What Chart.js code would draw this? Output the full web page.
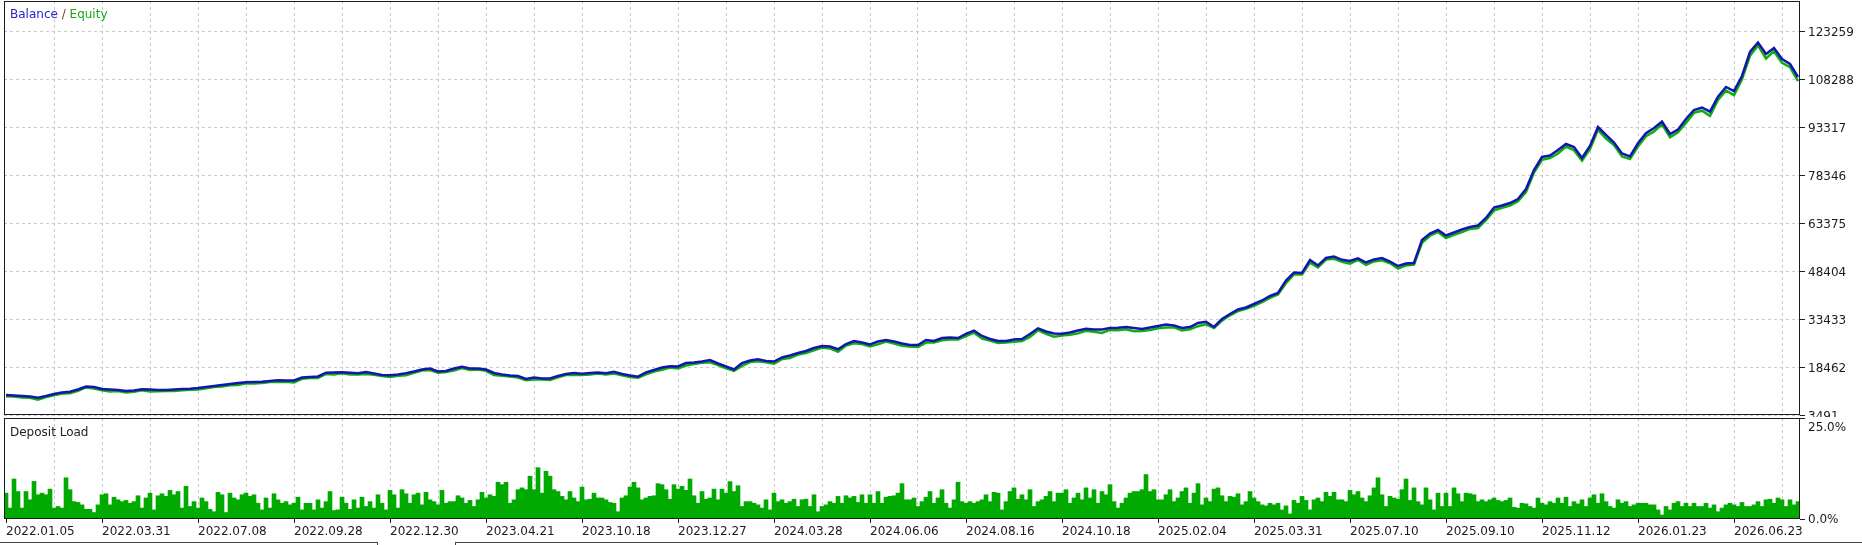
<!DOCTYPE html>
<html>
<head>
<meta charset="utf-8">
<script src="https://cdn.jsdelivr.net/npm/chart.js@4.4.1/dist/chart.umd.min.js"></script>
<style>
  body { margin: 0; background: #fff; }
  #page { position: relative; width: 1862px; height: 545px; overflow: hidden; background: #fff; }
  canvas { position: absolute; left: 0; }
  .caption { position: absolute; font: 12px "DejaVu Sans", sans-serif; line-height: 16px; white-space: nowrap; }
  .tab { position: absolute; top: 542px; height: 4px; border-top: 1px solid #444; }
</style>
</head>
<body>
<div id="page">
  <canvas id="balanceChart" width="1862" height="417" style="top:0"></canvas>
  <canvas id="loadChart" width="1862" height="128" style="top:417px"></canvas>
  <div class="caption" style="left:10px;top:6px"><span style="color:#2424c8">Balance</span> <span style="color:#7a3a10">/</span> <span style="color:#1aa81a">Equity</span></div>
  <div class="caption" style="left:10px;top:424px;color:#222">Deposit Load</div>
  <div class="tab" style="left:0;width:377px;border-right:1px solid #444"></div>
  <div class="tab" style="left:455px;width:1407px;border-left:1px solid #444"></div>
</div>
<script>
// x axis: one slot = one deposit load bar, a date label every 24 slots
const dateLabels = ['2022.01.05', '2022.03.31', '2022.07.08', '2022.09.28', '2022.12.30', '2023.04.21',
    '2023.10.18', '2023.12.27', '2024.03.28', '2024.06.06', '2024.08.16', '2024.10.18', '2025.02.04',
    '2025.03.31', '2025.07.10', '2025.09.10', '2025.11.12', '2026.01.23', '2026.06.23'];
const slotsPerLabel = 24;
const slotsPerPoint = 2;   // balance / equity sampled every 2 slots

const balanceTicks = [3491, 18462, 33433, 48404, 63375, 78346, 93317, 108288, 123259];
const balanceMax = 132616;
const loadTicks = [0, 25];
const loadTickLabels = ['0.0%', '25.0%'];

const balance = [
    9729, 9573, 9417, 9261, 8887, 9417, 10041, 10509, 10758, 11444, 12380, 12224,
    11600, 11444, 11289, 10977, 11133, 11507, 11444, 11289, 11289, 11444, 11600, 11663,
    11912, 12224, 12536, 12848, 13160, 13472, 13690, 13784, 13877, 14096, 14314, 14252,
    14252, 15187, 15343, 15499, 16684, 16747, 16809, 16653, 16497, 16903, 16435, 15967,
    15873, 16123, 16497, 17059, 17682, 17994, 17059, 17215, 17994, 18556, 17994, 17994,
    17682, 16591, 16123, 15811, 15655, 14719, 15187, 14875, 14875, 15655, 16279, 16591,
    16341, 16591, 16747, 16497, 16996, 16279, 15811, 15437, 16747, 17527, 18306, 18712,
    18618, 19710, 19866, 20178, 20646, 19554, 18618, 17682, 19710, 20490, 20864, 20334,
    20178, 21425, 22049, 22829, 23453, 24388, 25012, 24856, 23983, 25636, 26571, 26103,
    25479, 26415, 26883, 26415, 25791, 25324, 25324, 26883, 26571, 27507, 27663, 27507,
    28817, 29784, 28131, 27195, 26571, 26571, 27039, 27195, 28755, 30533, 29535, 28911,
    28849, 29223, 29847, 30377, 30158, 30158, 30626, 30720, 30938, 30626, 30314, 30782,
    31250, 31718, 31406, 30626, 30938, 32186, 32560, 30938, 33433, 34993, 36396, 37020,
    38112, 39203, 40607, 41543, 45442, 47937, 47781, 51836, 50120, 52460, 52927, 51898,
    51524, 52366, 51056, 51992, 52460, 51304, 49964, 50743, 50900, 58074, 60101, 61193,
    59477, 60413, 61349, 62128, 62596, 64935, 68210, 68834, 69614, 70862, 73981, 79907,
    83961, 84429, 86145, 88016, 87080, 83649, 87392, 93317, 90822, 88483, 85052, 84116,
    88235, 91354, 93007, 94972, 91135, 92539, 95814, 98621, 99401, 98091, 102769, 105794,
    104547, 109225, 116711, 119674, 116087, 117959, 114528, 112968, 108914
];

const equity = [
    9329, 9273, 8917, 8861, 8287, 9117, 9641, 10209, 10258, 11044, 12080, 11724,
    11200, 10844, 10989, 10477, 10733, 11207, 10844, 10889, 10989, 10944, 11200, 11363,
    11412, 11824, 12236, 12348, 12760, 12872, 13390, 13284, 13477, 13796, 13814, 13852,
    13652, 14787, 15043, 14999, 16284, 16147, 16509, 16153, 16097, 16303, 16035, 15667,
    15373, 15723, 15897, 16659, 17382, 17494, 16659, 16915, 17394, 18156, 17494, 17694,
    17282, 15991, 15723, 15511, 15155, 14319, 14587, 14575, 14375, 15255, 15979, 15991,
    15941, 16091, 16447, 16097, 16396, 15879, 15311, 15137, 16147, 17027, 17606, 18312,
    18018, 18910, 19366, 19778, 19946, 19054, 18018, 17282, 18810, 19990, 20264, 19934,
    19478, 20925, 21249, 22329, 22853, 23688, 24512, 24256, 23183, 25136, 25871, 25603,
    24879, 25515, 26383, 25815, 25091, 24824, 24724, 26083, 26071, 26807, 27063, 27007,
    28117, 29184, 27331, 26695, 25971, 26071, 26339, 26595, 27855, 29933, 28835, 27911,
    28249, 28523, 28947, 29777, 29458, 29058, 30026, 29920, 30238, 29626, 29714, 29982,
    30550, 30818, 30806, 29826, 30238, 31186, 31760, 30638, 32933, 34593, 35896, 36620,
    37512, 38703, 40007, 41043, 44642, 47337, 47281, 51036, 49520, 51960, 52227, 51298,
    50724, 51866, 50356, 51392, 51760, 50804, 49164, 50143, 50400, 57174, 59401, 60593,
    58677, 59713, 60549, 61528, 61796, 64235, 67310, 68134, 68814, 70162, 72981, 79107,
    83061, 83629, 85045, 87216, 86080, 82849, 86392, 92417, 89722, 87683, 84152, 83316,
    87235, 90454, 91907, 94172, 90135, 91639, 94614, 97721, 98401, 96791, 101769, 104694,
    103247, 108225, 115511, 118774, 114687, 116959, 113328, 111968, 107614
];

const depositLoad = [
    6.4, 2.7, 9.9, 6.8, 2.7, 6.8, 4.75, 9.3, 6.0, 6.4, 6.0, 7.4, 2.7, 3.1, 2.7, 10.2, 7.25, 4.3, 4.1, 3.5, 2.4, 2.4, 1.6, 3.5,
    6.0, 6.25, 3.5, 5.4, 4.75, 4.3, 4.6, 3.9, 4.3, 5.75, 2.7, 5.2,
    6.4, 2.25, 5.75, 6.25, 5.6, 7.1, 6.0, 6.8, 2.7, 8.1, 3.1, 4.3,
    2.7, 5.2, 4.3, 2.4, 1.8, 6.6, 6.0, 1.6, 6.4, 5.2, 4.75, 6.0,
    6.4, 5.6, 6.0, 3.9, 2.25, 5.2, 2.7, 6.25, 4.75, 3.9, 4.3, 3.5,
    3.9, 5.4, 2.25, 3.9, 3.9, 2.25, 4.75, 2.7, 4.3, 6.8, 2.1, 2.25,
    5.4, 3.9, 2.4, 4.75, 2.7, 5.4, 3.1, 4.3, 2.7, 6.0, 3.9, 2.25,
    7.1, 6.0, 2.7, 7.25, 6.25, 3.9, 6.0, 6.4, 3.5, 6.6, 4.75, 4.3,
    3.5, 7.1, 3.9, 4.3, 4.3, 5.75, 5.2, 3.9, 4.6, 3.1, 4.75, 6.6,
    5.2, 6.0, 5.6, 9.1, 8.5, 9.1, 3.9, 4.75, 7.25, 7.7, 7.25, 10.6,
    7.25, 12.7, 6.4, 11.8, 10.6, 7.25, 6.8, 5.6, 4.75, 6.8, 5.2, 4.3,
    7.9, 4.75, 4.9, 6.4, 5.2, 5.2, 4.75, 4.1,
    3.9, 1.8, 5.2, 5.75, 7.9, 9.1, 7.7, 4.75, 5.2, 5.6, 5.75, 8.75,
    8.5, 7.25, 4.9, 8.5, 7.4, 8.1, 7.1, 9.9, 5.75, 3.9, 6.8, 4.9,
    5.2, 7.4, 4.75, 7.4, 6.4, 9.25, 6.8, 8.25, 3.1, 4.3, 4.3, 3.9,
    3.5, 2.7, 4.75, 2.25, 6.4, 4.3, 4.75, 3.9, 4.3, 4.9, 3.1, 4.75,
    4.9, 3.1, 6.0, 1.8, 3.1, 3.5, 4.3, 3.9, 5.6, 3.9, 5.75, 5.2,
    5.6, 4.1, 6.0, 3.9, 6.0, 3.9, 6.8, 3.9, 5.4, 5.6, 5.75, 6.4,
    8.75, 4.75, 4.75, 5.2, 3.1, 4.3, 5.4, 6.8, 3.9, 5.2, 7.25, 3.9,
    2.7, 4.75, 9.1, 4.3, 3.9, 4.3, 3.9, 4.3, 4.75, 6.0, 4.3, 6.6,
    6.4, 2.25, 4.3, 6.8, 7.7, 4.9, 6.0, 4.75, 7.25, 3.1, 4.3, 4.75,
    5.6, 6.8, 4.3, 6.4, 6.4, 7.25, 3.9, 5.2, 6.4, 4.75, 7.7, 5.2,
    7.25, 3.9, 6.8, 6.0, 8.5, 4.3, 2.7, 3.9, 5.2, 6.4, 6.8, 6.8,
    7.25, 11.0, 6.8, 7.25, 4.75, 4.75, 6.0, 7.25, 4.3, 5.2, 6.8, 7.7,
    3.9, 6.4, 8.75, 3.5, 5.2,
    4.3, 7.4, 7.7, 5.75, 4.3, 5.6, 5.4, 6.25, 3.5, 4.3, 6.8, 5.2,
    4.3, 3.5, 3.25, 3.9, 3.5, 3.9, 2.25, 3.25, 1.25, 4.6, 3.9, 5.6,
    4.6, 2.25, 4.75, 5.2, 4.3, 6.6, 5.6, 6.6, 4.75, 4.75, 4.3, 7.1,
    6.0, 6.8, 5.2, 4.3, 5.75, 7.7, 10.2, 6.0, 3.1, 5.6, 5.2, 4.9,
    7.25, 9.9, 4.6, 7.7, 4.3, 3.5, 7.7, 4.75, 2.25, 6.4, 3.1, 6.4,
    3.1, 7.7, 6.25, 4.3, 6.4, 6.25, 6.0, 4.3, 4.75, 4.3, 4.75, 5.2,
    4.6, 4.3, 4.6, 5.2, 2.9, 2.7, 3.9, 3.75, 3.1, 2.7, 5.2, 3.9,
    3.5, 4.3, 3.9, 5.2, 3.9, 5.4, 3.1, 4.3, 3.75, 4.75, 3.1, 5.2,
    6.0, 3.9, 6.25, 4.3, 3.1, 2.7, 4.75, 3.9, 4.3, 3.1, 3.5, 3.9,
    3.9, 3.9, 3.5, 3.5, 2.25, 1.0, 3.1, 2.25, 3.9, 4.3, 3.1, 3.9,
    3.1, 3.9, 3.1, 3.1, 3.9, 2.7, 3.5, 1.8, 2.7, 3.5, 3.9, 3.5,
    3.1, 4.1, 3.1, 3.1, 3.5, 4.3, 3.1, 4.75, 4.9, 3.9, 5.2, 4.75,
    3.1, 4.75, 3.5, 4.3
];

const GRID = '#c9c9c9';
const INK = '#1c1c1c';
const FONT = { family: 'DejaVu Sans', size: 12 };

const slotCount = depositLoad.length;
// vertical grid every half label step
const gridSlots = [];
for (let s = 0; s <= slotCount - 1; s += slotsPerLabel / 2) gridSlots.push(s);

const xRange = { type: 'linear', min: -0.5, max: slotCount - 0.5, offset: false };

const noScalePadding = (scale) => {
    scale.paddingLeft = 0;
    scale.paddingRight = 0;
    scale.paddingTop = 0;
    scale.paddingBottom = 0;
};

// panel frame
const framePlugin = {
    id: 'frame',
    afterDraw(chart) {
        const { ctx, chartArea: a } = chart;
        ctx.save();
        ctx.strokeStyle = INK;
        ctx.lineWidth = 1;
        ctx.strokeRect(a.left + 0.5, a.top + 0.5, a.right - a.left - 1, a.bottom - a.top - 1);
        ctx.restore();
    }
};

let balanceConfig = {
    type: 'line',
    data: {
        datasets: [{
            label: 'Balance',
            data: balance.map((v, i) => ({ x: i * slotsPerPoint, y: v })),
            borderColor: '#1414b0',
            borderWidth: 2.5,
            pointRadius: 0,
            tension: 0,
            order: 0
        }, {
            label: 'Equity',
            data: equity.map((v, i) => ({ x: i * slotsPerPoint, y: v })),
            borderColor: '#0cb00c',
            borderWidth: 2.5,
            pointRadius: 0,
            tension: 0,
            order: 1
        }]
    },
    options: {
        responsive: false,
        devicePixelRatio: 1,
        animation: false,
        layout: { padding: { left: 4, top: 1, right: 0, bottom: 2 } },
        plugins: { legend: { display: false }, tooltip: { enabled: false } },
        scales: {
            x: {
                ...xRange,
                afterBuildTicks: (s) => { s.ticks = gridSlots.map(v => ({ value: v })); },
                afterFit: (s) => { s.height = 0; noScalePadding(s); },
                ticks: { display: false },
                grid: { offset: false, color: (c) => c.index === 0 ? 'rgba(0,0,0,0)' : GRID, drawTicks: false },
                border: { display: false, dash: [3, 3] }
            },
            y: {
                position: 'right',
                min: balanceTicks[0],
                max: balanceMax,
                afterBuildTicks: (s) => { s.ticks = balanceTicks.map(v => ({ value: v })); },
                afterFit: (s) => { s.width = 62; noScalePadding(s); },
                ticks: { color: INK, font: FONT, padding: 3, labelOffset: 2, callback: (v) => String(v) },
                grid: { color: GRID, tickColor: INK, tickLength: 5, tickBorderDash: [] },
                border: { display: false, dash: [3, 3] }
            }
        }
    },
    plugins: [framePlugin]
};

let loadConfig = {
    type: 'bar',
    data: {
        datasets: [{
            label: 'Deposit Load',
            data: depositLoad.map((v, k) => ({ x: k, y: v })),
            backgroundColor: '#00aa00',
            borderWidth: 0,
            barPercentage: 1,
            categoryPercentage: 1
        }]
    },
    options: {
        responsive: false,
        devicePixelRatio: 1,
        animation: false,
        layout: { padding: { left: 4, top: 1, right: 0, bottom: 0 } },
        plugins: { legend: { display: false }, tooltip: { enabled: false } },
        scales: {
            x: {
                ...xRange,
                afterBuildTicks: (s) => { s.ticks = gridSlots.map(v => ({ value: v })); },
                afterFit: (s) => { s.height = 26; noScalePadding(s); },
                ticks: {
                    autoSkip: false, maxRotation: 0, minRotation: 0, align: 'start',
                    color: INK, font: FONT, padding: 2,
                    callback: (v, i) => i % 2 === 0 ? (dateLabels[i / 2] || '') : ''
                },
                grid: {
                    offset: false,
                    color: (c) => c.index === 0 ? 'rgba(0,0,0,0)' : GRID,
                    tickColor: (c) => c.index % 2 === 0 ? INK : 'rgba(0,0,0,0)',
                    tickLength: 4,
                    tickBorderDash: []
                },
                border: { display: false, dash: [3, 3] }
            },
            y: {
                position: 'right',
                min: loadTicks[0],
                max: loadTicks[1],
                afterBuildTicks: (s) => { s.ticks = loadTicks.map(v => ({ value: v })); },
                afterFit: (s) => { s.width = 62; noScalePadding(s); },
                ticks: {
                    color: INK,
                    font: { family: 'DejaVu Sans', size: 12, lineHeight: 1.5 },
                    padding: 3,
                    labelOffset: 1,
                    // top label sits one line under the panel edge
                    callback: (v, i) => i === loadTicks.length - 1 ? ['', loadTickLabels[i]] : loadTickLabels[i]
                },
                grid: { drawOnChartArea: false, tickColor: INK, tickLength: 5, tickBorderDash: [] },
                border: { display: false }
            }
        }
    },
    plugins: [framePlugin]
};

let balanceChart = new Chart(document.getElementById('balanceChart'), balanceConfig);
let loadChart = new Chart(document.getElementById('loadChart'), loadConfig);
</script>
</body>
</html>
